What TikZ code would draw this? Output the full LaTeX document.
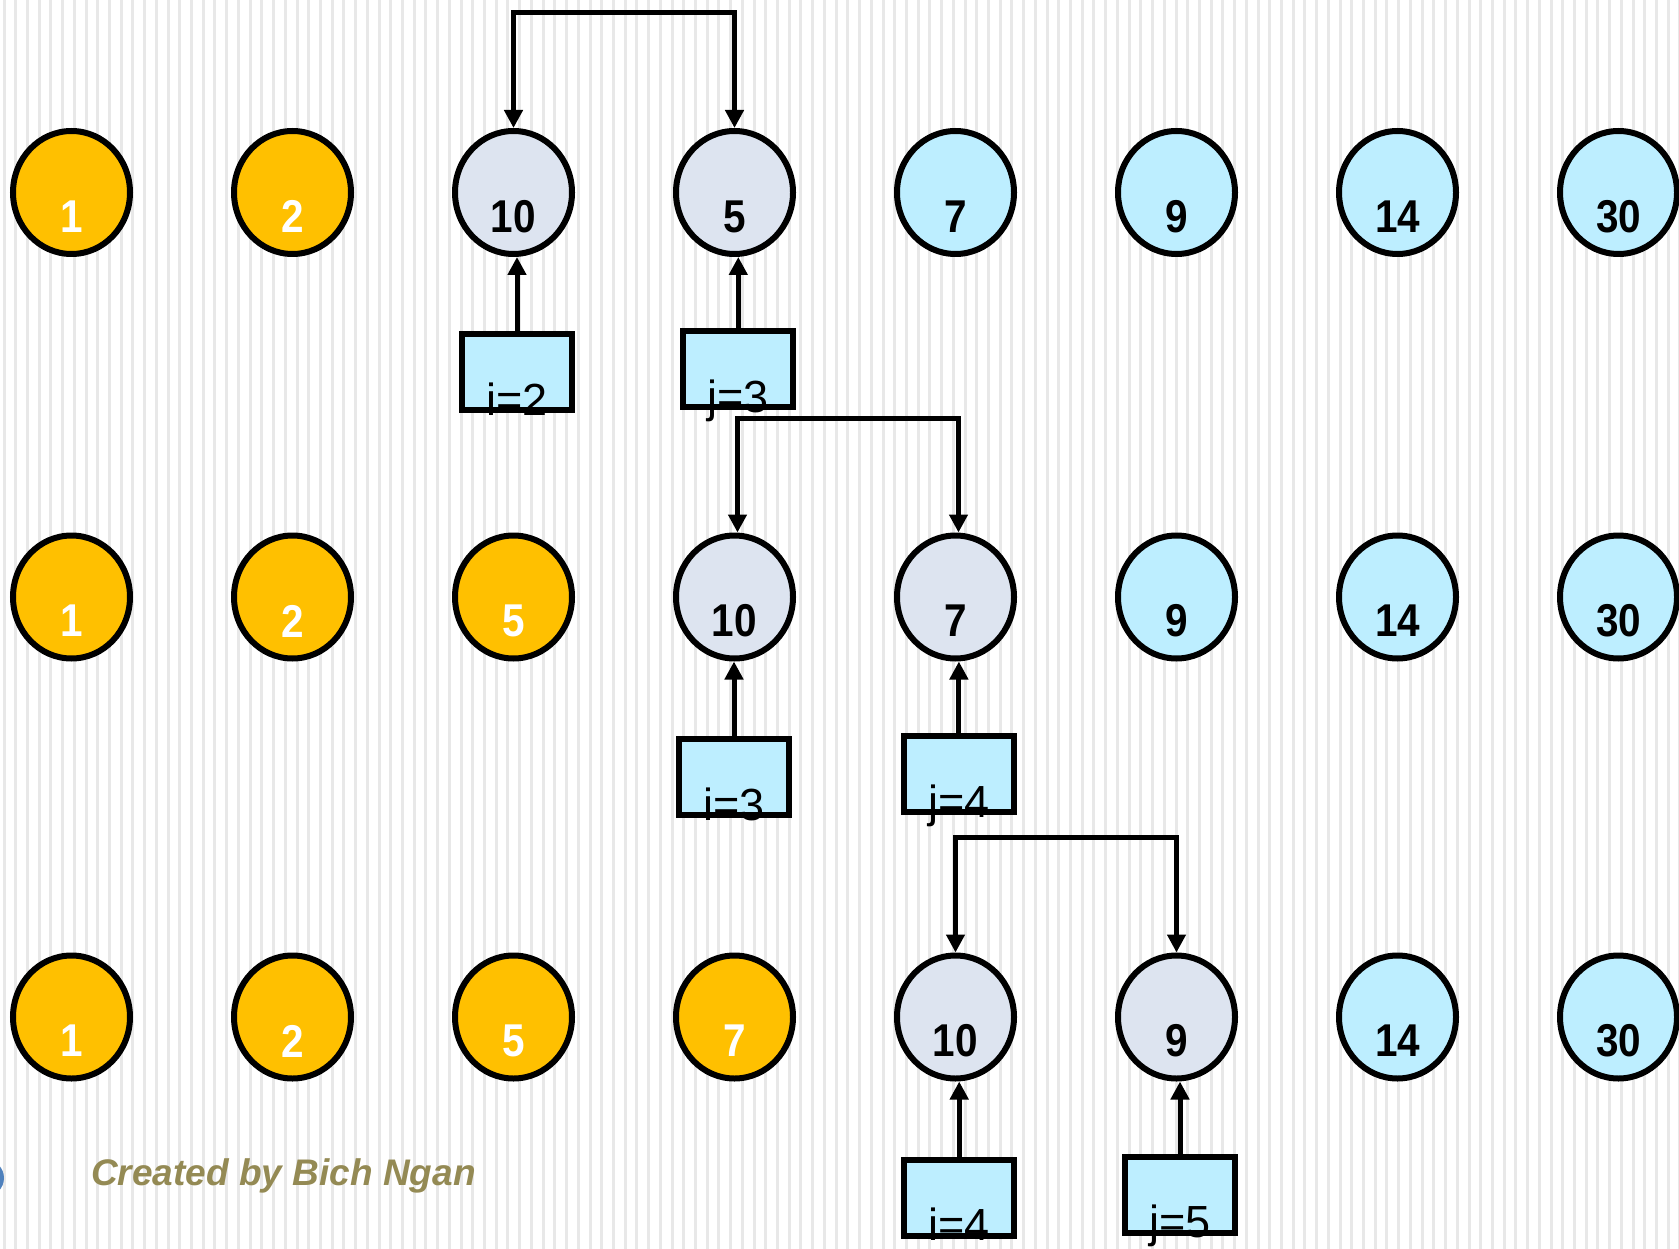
\documentclass[tikz,border=0pt]{standalone}
\usepackage{fontspec}
\usepackage{graphicx}
\setmainfont{Liberation Sans}
\usetikzlibrary{arrows.meta,shapes.geometric}
\definecolor{orng}{HTML}{FFC000}
\definecolor{lblue}{HTML}{BDEEFF}
\definecolor{lgray}{HTML}{DDE4F0}
\definecolor{stripecol}{HTML}{E8E8E8}
\definecolor{olivetxt}{HTML}{948A54}
\definecolor{bulletcol}{HTML}{4F81BD}
\newcommand{\numtxt}[1]{\scalebox{0.88}[1]{\fontsize{46}{46}\selectfont\bfseries #1}}
\tikzset{
 ball/.style={ellipse, draw=black, line width=6pt, minimum width=117pt, minimum height=123pt, inner sep=0pt},
 numlab/.style={yshift=-24pt, inner sep=0pt},
 done/.style={ball, fill=orng, label={[numlab, text=white]center:\numtxt{#1}}},
 todo/.style={ball, fill=lblue, label={[numlab]center:\numtxt{#1}}},
 act/.style={ball, fill=lgray, label={[numlab]center:\numtxt{#1}}},
 ptr/.style={draw=black, fill=lblue, line width=6pt, minimum width=110pt, minimum height=76pt, inner sep=0pt},
 ptrtxt/.style={anchor=base, inner sep=0pt, font=\fontsize{45}{45}\selectfont, text=black, yshift=-2pt},
 arr/.style={line width=5pt, -{Triangle[length=18pt,width=18pt]}},
 swaparr/.style={line width=5pt, {Triangle[length=18pt,width=18pt]}-{Triangle[length=18pt,width=18pt]}},
}
\begin{document}
\begin{tikzpicture}[x=1pt,y=-1pt]
\useasboundingbox (0,0) rectangle (1679,1249);
\fill[white] (0,0) rectangle (1679,1249);
\foreach \i in {0,...,143} \fill[stripecol] ({2.5+\i*11.72},0) rectangle ++(3,1249);

% row 1
\node[done=1] (a1) at (71.5,192.5) {};
\node[done=2] (a2) at (292.5,192.5) {};
\node[act=10] (a3) at (513.5,192.5) {};
\node[act=5] (a4) at (734.5,192.5) {};
\node[todo=7] (a5) at (955.5,192.5) {};
\node[todo=9] (a6) at (1176.5,192.5) {};
\node[todo=14] (a7) at (1397.5,192.5) {};
\node[todo=30] (a8) at (1618.5,192.5) {};
% row 2
\node[done=1] (b1) at (71.5,597) {};
\node[done=2] (b2) at (292.5,597) {};
\node[done=5] (b3) at (513.5,597) {};
\node[act=10] (b4) at (734.5,597) {};
\node[act=7] (b5) at (955.5,597) {};
\node[todo=9] (b6) at (1176.5,597) {};
\node[todo=14] (b7) at (1397.5,597) {};
\node[todo=30] (b8) at (1618.5,597) {};
% row 3
\node[done=1] (c1) at (71.5,1017) {};
\node[done=2] (c2) at (292.5,1017) {};
\node[done=5] (c3) at (513.5,1017) {};
\node[done=7] (c4) at (734.5,1017) {};
\node[act=10] (c5) at (955.5,1017) {};
\node[act=9] (c6) at (1176.5,1017) {};
\node[todo=14] (c7) at (1397.5,1017) {};
\node[todo=30] (c8) at (1618.5,1017) {};

% pointer boxes
\node[ptr] (pi1) at (517,372.3) {};
\node[ptrtxt] (ti1) at (pi1.south) {i=2};
\node[ptr] (pj1) at (738.3,369) {};
\node[ptrtxt] (tj1) at (pj1.south) {j=3};
\node[ptr] (pi2) at (734,777.4) {};
\node[ptrtxt] (ti2) at (pi2.south) {i=3};
\node[ptr] (pj2) at (958.9,774.2) {};
\node[ptrtxt] (tj2) at (pj2.south) {j=4};
\node[ptr] (pi3) at (959.2,1197.5) {};
\node[ptrtxt] (ti3) at (pi3.south) {i=4};
\node[ptr] (pj3) at (1180,1194.5) {};
\node[ptrtxt] (tj3) at (pj3.south) {j=5};

\draw[arr] (pi1.north) -- (pi1.north |- a3.south);
\draw[arr] (pj1.north) -- (pj1.north |- a4.south);
\draw[arr] (pi2.north) -- (pi2.north |- b4.south);
\draw[arr] (pj2.north) -- (pj2.north |- b5.south);
\draw[arr] (pi3.north) -- (pi3.north |- c5.south);
\draw[arr] (pj3.north) -- (pj3.north |- c6.south);

% swap connectors
\coordinate (k1) at (0,13);
\coordinate (k2) at (0,418);
\coordinate (k3) at (0,837.4);
\draw[swaparr] (a3.north) -- (a3.north |- k1) -| (a4.north);
\draw[swaparr] ([xshift=3pt]b4.north) -- ([xshift=3pt]b4.north |- k2) -| ([xshift=3pt]b5.north);
\draw[swaparr] (c5.north) -- (c5.north |- k3) -| (c6.north);

% footer
\fill[bulletcol] (-14.5,1178) circle (18.5pt);
\node[anchor=base west, text=olivetxt, font=\fontsize{37}{37}\selectfont\bfseries\itshape, inner sep=0pt] (credit) at (91,1185) {Created by Bich Ngan};
\end{tikzpicture}
\end{document}
